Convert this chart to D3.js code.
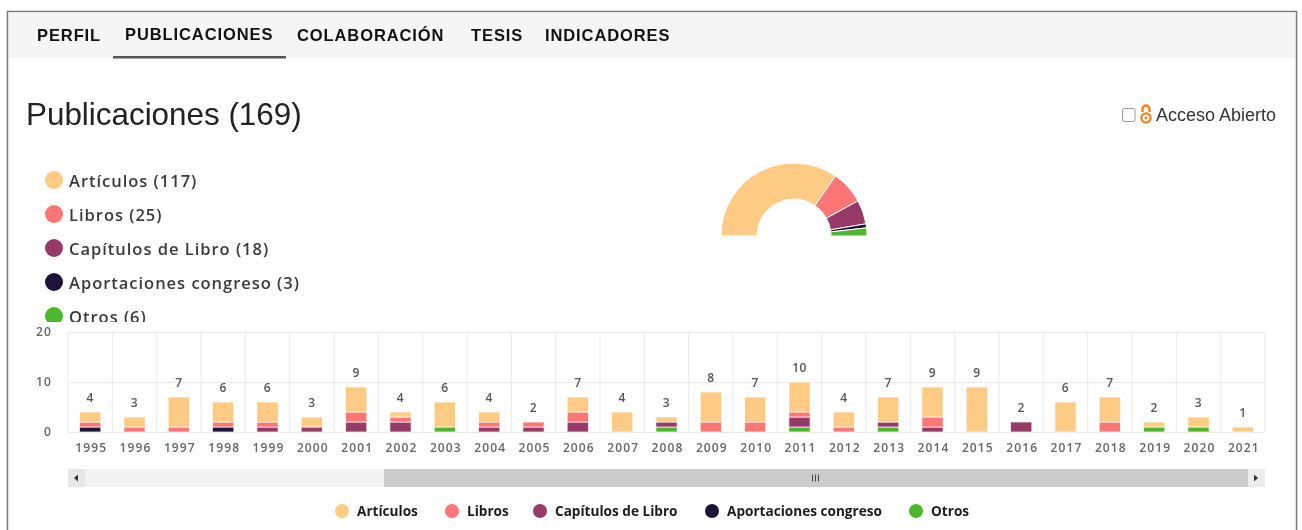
<!DOCTYPE html>
<html>
<head>
<meta charset="utf-8">
<script src="https://cdn.jsdelivr.net/npm/d3@7"></script>
<style>
  html, body { margin: 0; padding: 0; background: #fff; overflow: hidden; }
  svg { display: block; filter: blur(0.5px); }
  .nav { font: bold 16.5px "Liberation Sans"; fill: #111; letter-spacing: 0.9px; }
  .lbl { font: 600 16.5px "Open Sans"; fill: #3a3a3a; letter-spacing: 0.98px; }
  .leg { font: bold 13.6px "Open Sans"; fill: #1c1c1c; }
  .tot { font: 12px "Open Sans"; fill: #555; font-weight: 600; text-anchor: middle; letter-spacing: 0.5px; }
  .axis text { font: 600 12px "Open Sans"; fill: #666; letter-spacing: 1.1px; }
  .axis path { display: none; }
  .grid line { stroke: #e9e9e9; }
</style>
</head>
<body>
<div id="chart"></div>
<script>
var navItems = ['PERFIL', 'PUBLICACIONES', 'COLABORACIÓN', 'TESIS', 'INDICADORES']
var navX = [37, 125, 297, 471, 545]

var categories = ['Artículos', 'Libros', 'Capítulos de Libro', 'Aportaciones congreso', 'Otros']
var catTotals = [117, 25, 18, 3, 6]
var colors = ['#fdcb83', '#fe7676', '#983a68', '#1f1238', '#4cb62c']

var years = ['1995','1996','1997','1998','1999','2000','2001','2002','2003','2004','2005','2006','2007','2008',
             '2009','2010','2011','2012','2013','2014','2015','2016','2017','2018','2019','2020','2021']
var articulos    = [2,2,6,4,4,2,5,1,5,2,0,3,4,1,6,5,6,3,5,6,9,0,6,5,1,2,1]
var libros       = [1,1,1,1,1,0,2,1,0,1,1,2,0,0,2,2,1,1,0,2,0,0,0,2,0,0,0]
var capitulos    = [0,0,0,0,1,1,2,2,0,1,1,2,0,1,0,0,2,0,1,1,0,2,0,0,0,0,0]
var aportaciones = [1,0,0,1,0,0,0,0,0,0,0,0,0,0,0,0,0,0,0,0,0,0,0,0,0,0,0]
var otros        = [0,0,0,0,0,0,0,0,1,0,0,0,0,1,0,0,1,0,1,0,0,0,0,0,1,1,0]
var yTicks = [0, 10, 20]

var conf = {
  width: 1302, height: 530,
  plot_l: 68, plot_r: 1265, plot_t: 332, plot_b: 432,
  pie_x: 794, pie_y: 236, pie_r: 73, pie_in: 37
}

var svg = d3.select('#chart').append('svg')
    .attr('width', conf.width).attr('height', conf.height)

// frame and tab bar
svg.append('rect').attr('x', 7.5).attr('y', 11.5).attr('width', 1289).attr('height', 540)
    .attr('fill', 'none').attr('stroke', '#777').attr('stroke-width', 1.5)
svg.append('rect').attr('x', 9).attr('y', 12.5).attr('width', 1286).attr('height', 45.5).attr('fill', '#f5f5f5')

svg.selectAll('.nav').data(navItems).enter().append('text')
    .attr('class', 'nav')
    .attr('x', (d, i) => navX[i])
    .attr('y', (d, i) => i == 1 ? 40 : 41)
    .text(d => d)
svg.append('rect').attr('x', 113).attr('y', 56).attr('width', 173).attr('height', 2.5).attr('fill', '#555')

svg.append('text').attr('x', 26).attr('y', 125)
    .style('font', '31.4px "Liberation Sans"').style('fill', '#222')
    .text('Publicaciones (169)')

// acceso abierto
svg.append('rect').attr('x', 1122.5).attr('y', 108.5).attr('width', 12.5).attr('height', 13).attr('rx', 2)
    .attr('fill', '#fff').attr('stroke', '#999')
var oa = svg.append('g').attr('fill', 'none').attr('stroke', '#f58220').attr('stroke-width', 2.4)
oa.append('path').attr('d', 'M1142.5 112v-3a3.5 3.5 0 0 1 7 0v3')
oa.append('circle').attr('cx', 1146).attr('cy', 118).attr('r', 4.6)
svg.append('circle').attr('cx', 1146).attr('cy', 118).attr('r', 1.4).attr('fill', '#f58220')
svg.append('text').attr('x', 1156).attr('y', 121)
    .style('font', '18px "Liberation Sans"').style('fill', '#333')
    .text('Acceso Abierto')

// legend on top, cut by its scroll box
svg.append('clipPath').attr('id', 'legclip').append('rect')
    .attr('x', 30).attr('y', 165).attr('width', 300).attr('height', 157)
var legTop = svg.append('g').attr('clip-path', 'url(#legclip)')
var legY = d3.scalePoint().domain(categories).range([180, 316])
legTop.selectAll('circle').data(categories).enter().append('circle')
    .attr('cx', 54).attr('cy', d => legY(d)).attr('r', 9)
    .attr('fill', (d, i) => colors[i])
legTop.selectAll('text').data(categories).enter().append('text')
    .attr('class', 'lbl')
    .attr('x', 69).attr('y', d => legY(d) + 6.5)
    .text((d, i) => d + ' (' + catTotals[i] + ')')

// half donut
var pie = d3.pie().sort(null).startAngle(-Math.PI / 2).endAngle(Math.PI / 2)
var arc = d3.arc().innerRadius(conf.pie_in).outerRadius(conf.pie_r)
svg.append('g').attr('transform', 'translate(' + conf.pie_x + ',' + conf.pie_y + ')')
  .selectAll('path').data(pie(catTotals)).enter().append('path')
    .attr('d', arc)
    .attr('fill', (d, i) => colors[i])
    .attr('stroke', '#fff').attr('stroke-width', 1)

// bar chart
var x = d3.scaleBand().domain(years).range([conf.plot_l, conf.plot_r]).paddingInner(0.52).paddingOuter(0.26)
var y = d3.scaleLinear().domain([0, 20]).range([conf.plot_b, conf.plot_t])
var step = x.step()

svg.append('g').attr('class', 'axis grid')
    .attr('transform', 'translate(' + conf.plot_l + ',0)')
    .call(d3.axisLeft(y).tickValues(yTicks).tickSize(-(conf.plot_r - conf.plot_l)).tickPadding(16))
svg.selectAll('.vgrid').data(d3.range(years.length + 1)).enter().append('line')
    .attr('class', 'vgrid')
    .attr('x1', d => conf.plot_l + d * step).attr('x2', d => conf.plot_l + d * step)
    .attr('y1', conf.plot_t).attr('y2', conf.plot_b)
    .attr('stroke', '#e9e9e9')

var rows = years.map((yr, i) => ({
  year: yr,
  0: otros[i], 1: aportaciones[i], 2: capitulos[i], 3: libros[i], 4: articulos[i],
  total: articulos[i] + libros[i] + capitulos[i] + aportaciones[i] + otros[i]
}))
// stacked bottom up: otros first, articulos on top
var stack = d3.stack().keys([0, 1, 2, 3, 4])
var layers = svg.selectAll('.layer').data(stack(rows)).enter().append('g')
    .attr('class', 'layer')
    .attr('fill', d => colors[4 - d.key])
layers.selectAll('rect').data(d => d.filter(p => p[1] > p[0])).enter().append('rect')
    .attr('x', d => x(d.data.year))
    .attr('width', x.bandwidth())
    .attr('y', d => y(d[1]))
    .attr('height', d => y(d[0]) - y(d[1]))
    .attr('stroke', '#fff').attr('stroke-opacity', 0.7).attr('stroke-width', 1)

svg.selectAll('.tot').data(rows).enter().append('text')
    .attr('class', 'tot')
    .attr('x', d => x(d.year) + x.bandwidth() / 2)
    .attr('y', d => y(d.total) - 10)
    .text(d => d.total)

svg.append('g').attr('class', 'axis')
    .attr('transform', 'translate(1,' + conf.plot_b + ')')
    .call(d3.axisBottom(x).tickSize(0).tickPadding(11))

// scrollbar under the plot
var sb = svg.append('g')
sb.append('rect').attr('x', conf.plot_l).attr('y', 469).attr('width', conf.plot_r - conf.plot_l).attr('height', 18).attr('fill', '#f2f2f2')
sb.append('rect').attr('x', 384).attr('y', 469).attr('width', 881).attr('height', 18).attr('fill', '#cbcbcb')
sb.append('rect').attr('x', conf.plot_l).attr('y', 469).attr('width', 17).attr('height', 18).attr('fill', '#e6e6e6')
sb.append('rect').attr('x', 1248).attr('y', 469).attr('width', 17).attr('height', 18).attr('fill', '#ececec')
sb.append('path').attr('d', 'M74 478l4-3.5v7z').attr('fill', '#333')
sb.append('path').attr('d', 'M1258 478l-4-3.5v7z').attr('fill', '#333')
sb.append('path').attr('d', 'M812.5 474.5v7M815.5 474.5v7M818.5 474.5v7').attr('stroke', '#444')

// legend at the bottom
var legX = [342, 452, 540, 712, 916]
svg.selectAll('.legdot').data(categories).enter().append('circle')
    .attr('class', 'legdot')
    .attr('cx', (d, i) => legX[i]).attr('cy', 511).attr('r', 7)
    .attr('fill', (d, i) => colors[i])
svg.selectAll('.leg').data(categories).enter().append('text')
    .attr('class', 'leg')
    .attr('x', (d, i) => legX[i] + 15).attr('y', 516)
    .text(d => d)
</script>
</body>
</html>
